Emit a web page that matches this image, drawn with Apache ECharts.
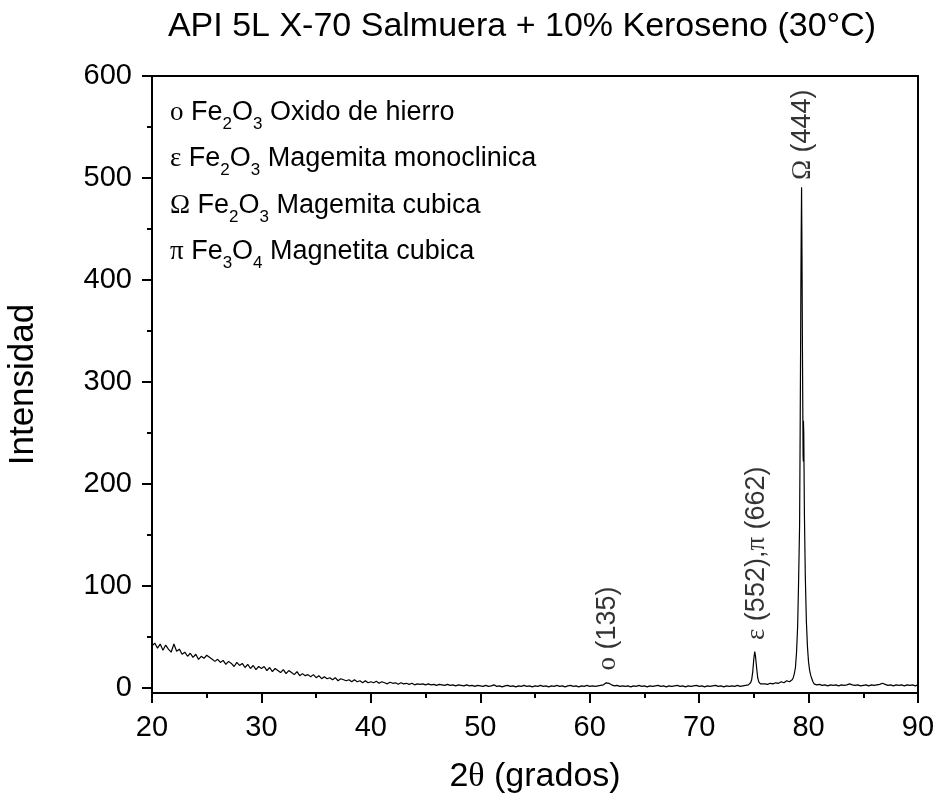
<!DOCTYPE html>
<html><head><meta charset="utf-8">
<script src="https://cdn.jsdelivr.net/npm/echarts@6/dist/echarts.min.js"></script>
<style>html,body{margin:0;padding:0;background:#fff}#c{width:938px;height:800px}</style>
</head><body><div id="c"></div>
<script>
// 2θ (deg), intensity
const scan20to30 = [[20.00,41],[20.25,44],[20.50,39],[20.75,43],[21.00,37],[21.25,42],[21.50,38],[21.75,35],[22.00,43],[22.25,36],[22.50,38],[22.75,33],[23.00,35],[23.25,31],[23.50,34],[23.75,30],[24.00,33],[24.25,28],[24.50,31],[24.75,29],[25.00,32],[25.25,30],[25.50,28],[25.75,26],[26.00,28],[26.25,25],[26.50,27],[26.75,23],[27.00,26],[27.25,24],[27.50,21],[27.75,25],[28.00,22],[28.25,24],[28.50,20],[28.75,23],[29.00,19],[29.25,22],[29.50,18],[29.75,21]];
const scan30to40 = [[30.00,19],[30.25,21],[30.50,17],[30.75,20],[31.00,16],[31.25,19],[31.50,17],[31.75,15],[32.00,18],[32.25,14],[32.50,17],[32.75,15],[33.00,13],[33.25,16],[33.50,12],[33.75,14],[34.00,12],[34.25,13],[34.50,11],[34.75,13],[35.00,10],[35.25,12],[35.50,9],[35.75,11],[36.00,9],[36.25,10],[36.50,8],[36.75,10],[37.00,7],[37.25,9],[37.50,8],[37.75,7],[38.00,8],[38.25,6],[38.50,8],[38.75,6],[39.00,7],[39.25,5],[39.50,7],[39.75,5]];
const scan40to50 = [[40.00,6],[40.25,5],[40.50,6.5],[40.75,4.5],[41.00,6],[41.25,5],[41.50,4],[41.75,5.5],[42.00,4.5],[42.25,5],[42.50,3.5],[42.75,5],[43.00,4],[43.25,4.5],[43.50,3.5],[43.75,4.5],[44.00,3],[44.25,4],[44.50,3.5],[44.75,4],[45.00,3],[45.25,4],[45.50,3],[45.75,3.5],[46.00,2.5],[46.25,3.5],[46.50,3],[46.75,2.5],[47.00,3.5],[47.25,2.5],[47.50,3],[47.75,2],[48.00,3],[48.25,2.5],[48.50,2],[48.75,3],[49.00,2],[49.25,2.5],[49.50,1.5],[49.75,2.5]];
const scan50to63 = [[50.00,2],[50.25,1.5],[50.50,2.5],[50.75,1.5],[51.00,2],[51.25,3],[51.50,1.5],[51.75,2],[52.00,1],[52.25,2],[52.50,2.5],[52.75,1.5],[53.00,2],[53.25,1],[53.50,2],[53.75,1.5],[54.00,2.5],[54.25,1.5],[54.50,2],[54.75,1],[55.00,2],[55.25,1.5],[55.50,2.5],[55.75,1.5],[56.00,2],[56.25,1],[56.50,2],[56.75,1.5],[57.00,2.5],[57.25,1.5],[57.50,2],[57.75,1],[58.00,2],[58.25,2.5],[58.50,1.5],[58.75,2],[59.00,1],[59.25,2],[59.50,1.5],[59.75,2.5],[60.00,1.5],[60.25,2],[60.50,1.5],[60.75,2],[61.00,2.5],[61.25,3],[61.50,5],[61.60,6],[61.75,4.5],[62.00,3],[62.25,2],[62.50,2.5],[62.75,1.5]];
const scan63to74 = [[63.00,2],[63.25,1.5],[63.50,2],[63.75,1],[64.00,2],[64.25,1.5],[64.50,2.5],[64.75,1.5],[65.00,2],[65.25,1],[65.50,2],[65.75,1.5],[66.00,2],[66.25,2.5],[66.50,1.5],[66.75,2],[67.00,1],[67.25,2],[67.50,1.5],[67.75,2],[68.00,2.5],[68.25,1.5],[68.50,2],[68.75,1],[69.00,2],[69.25,1.5],[69.50,2],[69.75,2.5],[70.00,1.5],[70.25,2],[70.50,1],[70.75,2],[71.00,1.5],[71.25,2],[71.50,2.5],[71.75,1.5],[72.00,2],[72.25,1],[72.50,2],[72.75,1.5],[73.00,2],[73.25,1.5],[73.50,2.5],[73.75,1.5],[74.00,2],[74.25,2.5],[74.50,3]];
const peak75 = [[74.60,4],[74.70,5],[74.80,8],[74.90,16],[75.00,29],[75.08,35.5],[75.15,31],[75.25,20],[75.35,10],[75.45,6],[75.60,4],[75.75,3.5],[76.00,4],[76.25,3.5],[76.50,4.5],[76.75,4],[77.00,5],[77.25,4.5],[77.50,6],[77.75,5],[78.00,7],[78.25,6],[78.50,8]];
const peak79 = [[78.60,10],[78.70,14],[78.80,20],[78.90,35],[79.00,60],[79.08,100],[79.18,160],[79.23,250],[79.27,330],[79.30,400],[79.33,450],[79.36,491],[79.40,420],[79.44,330],[79.48,260],[79.50,228],[79.52,222],[79.53,262],[79.56,250],[79.62,170],[79.70,110],[79.80,65],[79.90,40],[80.00,25],[80.10,17],[80.20,12],[80.30,9],[80.40,6],[80.50,4]];
const scan80to90 = [[80.75,3],[81.00,3.5],[81.25,2.5],[81.50,3],[81.75,2],[82.00,3],[82.25,2.5],[82.50,3],[82.75,2],[83.00,3],[83.25,2.5],[83.50,3],[83.75,4],[83.85,5.5],[84.00,3],[84.25,2.5],[84.50,3],[84.75,2],[85.00,2.5],[85.25,3],[85.50,2],[85.75,3],[86.00,2.5],[86.25,3],[86.50,3.5],[86.75,4.5],[86.90,5],[87.00,3.5],[87.25,2.5],[87.50,3],[87.75,2],[88.00,3],[88.25,2.5],[88.50,3],[88.75,2],[89.00,3],[89.25,2.5],[89.50,3],[89.75,2],[90.00,3]];

const yTicks = [0, 100, 200, 300, 400, 500, 600];
const yMinorTicks = [50, 150, 250, 350, 450, 550];
const peakLabelPos = [[61.64, 17], [75.27, 47], [79.48, 498]];
const peakLabels = ['{g|ο}{t| (135)}', '{g|ε}{t| (552),}{g|π}{t| (662)}', '{g|Ω}{t| (444)}'];
const legendRows = [
  ['ο', '2', '3', 'Oxido de hierro', 'Fe', 'O'],
  ['ε', '2', '3', 'Magemita monoclinica', 'Fe', 'O'],
  ['Ω', '2', '3', 'Magemita cubica', 'Fe', 'O'],
  ['π', '3', '4', 'Magnetita cubica', 'Fe', 'O']
];
const titleText = 'API 5L X-70 Salmuera + 10% Keroseno (30°C)';

const scan = [].concat(scan20to30, scan30to40, scan40to50, scan50to63, scan63to74, peak75, peak79, scan80to90);

const SANS = 'Liberation Sans', SERIF = 'Liberation Serif';
const axisLineStyle = { color: '#000', width: 2 };

const chart = echarts.init(document.getElementById('c'), null, { renderer: 'canvas' });

const legendGraphics = legendRows.map((r, i) => ({
  type: 'text', left: 170, top: 99 + i * 46.5,
  style: {
    text: `{g|${r[0]}}{t| ${r[4]}}{s|${r[1]}}{t|${r[5]}}{s|${r[2]}}{t| ${r[3]}}`,
    rich: {
      g: { fontFamily: SERIF, fontSize: 27, lineHeight: 40, fill: '#000' },
      t: { fontFamily: SANS, fontSize: 27, lineHeight: 40, fill: '#000' },
      s: { fontFamily: SANS, fontSize: 17, lineHeight: 10, verticalAlign: 'bottom', fill: '#000' }
    }
  }
}));

chart.setOption({
  animation: false,
  backgroundColor: '#fff',
  grid: { left: 152, right: 20, top: 76, bottom: 107, containLabel: false, outerBoundsMode: 'none' },
  graphic: [
    { type: 'text', x: 522, y: 27, style: { text: titleText, font: '34px "Liberation Sans"', fill: '#000', textAlign: 'center', textVerticalAlign: 'middle' } }
  ].concat(legendGraphics),
  xAxis: [{
    type: 'value', position: 'bottom', min: 20, max: 90, interval: 10,
    axisLine: { show: true, onZero: false, lineStyle: axisLineStyle },
    axisTick: { show: true, length: 10, lineStyle: { color: '#000', width: 2 } },
    minorTick: { show: true, splitNumber: 2, length: 5, lineStyle: { color: '#000', width: 2 } },
    axisLabel: { fontSize: 29, fontFamily: SANS, color: '#000', margin: 20 },
    splitLine: { show: false },
    name: '{t|2}{g|θ}{t| (grados)}', nameLocation: 'middle', nameGap: 67,
    nameTextStyle: { rich: {
      t: { fontFamily: SANS, fontSize: 34, color: '#000' },
      g: { fontFamily: SERIF, fontSize: 34, color: '#000' } } }
  }, {
    type: 'value', position: 'top', min: 20, max: 90, interval: 10,
    axisLine: { show: true, onZero: false, lineStyle: axisLineStyle },
    axisTick: { show: false }, axisLabel: { show: false }, splitLine: { show: false }
  }],
  yAxis: [{
    type: 'value', position: 'left', min: -5, max: 600,
    axisLine: { show: true, onZero: false, lineStyle: axisLineStyle },
    axisTick: { show: true, length: 10, customValues: yTicks, lineStyle: { color: '#000', width: 2 } },
    axisLabel: { show: true, customValues: yTicks, fontSize: 29, fontFamily: SANS, color: '#000', margin: 20 },
    splitLine: { show: false },
    name: 'Intensidad', nameLocation: 'middle', nameGap: 111,
    nameTextStyle: { fontFamily: SANS, fontSize: 35, color: '#000' }
  }, {
    type: 'value', position: 'left', min: -5, max: 600,
    axisLine: { show: false, onZero: false },
    axisTick: { show: true, length: 5, customValues: yMinorTicks, lineStyle: { color: '#000', width: 2 } },
    axisLabel: { show: false }, splitLine: { show: false }
  }, {
    type: 'value', position: 'right', min: -5, max: 600,
    axisLine: { show: true, onZero: false, lineStyle: axisLineStyle },
    axisTick: { show: false }, axisLabel: { show: false }, splitLine: { show: false }
  }],
  series: [{
    type: 'line', data: scan, xAxisIndex: 0, yAxisIndex: 0,
    showSymbol: false, symbol: 'none', smooth: false,
    lineStyle: { color: '#000', width: 1.2 }, silent: true, z: 3
  }, {
    type: 'scatter', data: peakLabelPos, xAxisIndex: 0, yAxisIndex: 0,
    symbolSize: 0, silent: true, z: 4,
    label: {
      show: true, position: [0, 0], rotate: 90, align: 'left', verticalAlign: 'middle', color: '#000',
      formatter: p => peakLabels[p.dataIndex],
      rich: {
        g: { fontFamily: SERIF, fontSize: 27, color: '#000' },
        t: { fontFamily: SANS, fontSize: 27, color: '#000' }
      }
    }
  }]
});
</script></body></html>
